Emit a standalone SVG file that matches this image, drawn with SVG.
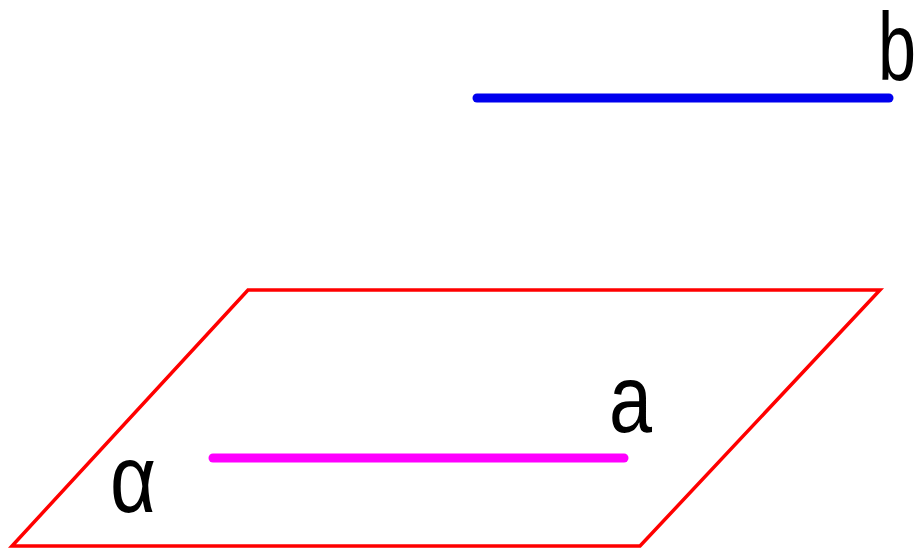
<svg xmlns="http://www.w3.org/2000/svg" width="918" height="553" viewBox="0 0 918 553">
<style>
.lbl{font-family:"Liberation Sans",Arial,sans-serif;font-size:96px;fill:#000}
.seg{stroke-width:9;stroke-linecap:round;fill:none}
</style>
<rect width="918" height="553" fill="#fff"/>
<g id="plane">
<polygon points="248,290 880,290 640,546 12,546" fill="none" stroke="#ff0000" stroke-width="3.5"/>
<text class="lbl" x="110" y="512" textLength="46" lengthAdjust="spacingAndGlyphs">α</text>
</g>
<g id="connectors">
<line id="line-b" class="seg" x1="477" y1="98" x2="889" y2="98" stroke="#0000ee"/>
<line id="line-a" class="seg" x1="213" y1="458" x2="624" y2="458" stroke="#ff00ff"/>
</g>
<g id="label-a"><text class="lbl" x="609" y="432" textLength="43" lengthAdjust="spacingAndGlyphs">a</text></g>
<g id="label-b"><text class="lbl" x="916" y="80" text-anchor="end" textLength="38" lengthAdjust="spacingAndGlyphs">b</text></g>
</svg>
